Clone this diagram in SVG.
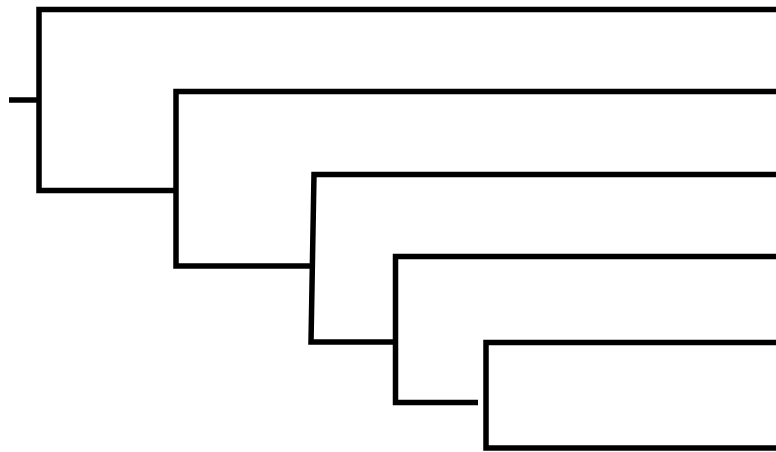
<svg xmlns="http://www.w3.org/2000/svg" width="776" height="452" viewBox="0 0 776 452">
<style>
.b{fill:none;stroke:#000;stroke-width:5.5;stroke-linejoin:miter;stroke-linecap:butt}
</style>
<rect width="776" height="452" fill="#fff"/>
<g id="connectors">
<g id="root"><path class="b" d="M9,100 H39"/></g>
<g id="clade1"><path class="b" d="M776,9.5 H39 V190.5 H176"/></g>
<g id="clade2"><path class="b" d="M776,91.5 H176 V266 H312"/></g>
<g id="clade3"><path class="b" d="M776,174.5 H314 L311,342 H395.5"/></g>
<g id="clade4"><path class="b" d="M776,256.5 H395.5 V402.5 H478"/></g>
<g id="clade5"><path class="b" d="M776,342.5 H486 V448 H776"/></g>
</g>
</svg>
